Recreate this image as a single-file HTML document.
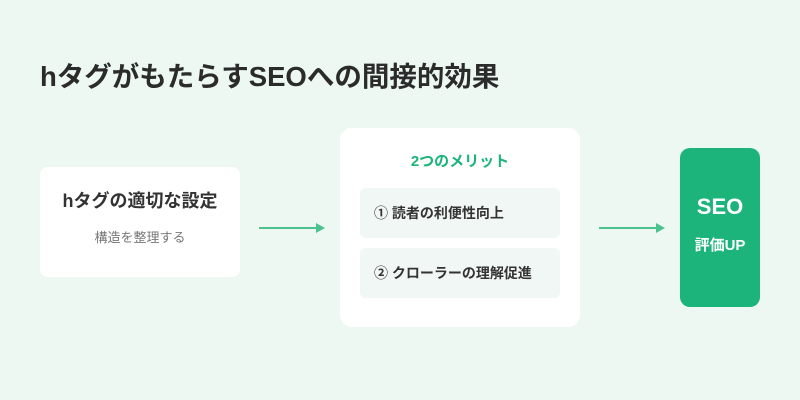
<!DOCTYPE html>
<html><head><meta charset="utf-8"><style>
body{margin:0;width:800px;height:400px;background:#edf8f3;position:relative;overflow:hidden;font-family:"Liberation Sans","Noto Sans CJK JP",sans-serif;color:#333}
.a{position:absolute}
.t{left:40px;top:54px;font-size:27.5px;font-weight:bold;color:#2b2b2b}
.b1{left:40px;top:167px;width:200px;height:110px;background:#fff;border-radius:8px}
.b2{left:340px;top:128px;width:240px;height:199px;background:#fff;border-radius:12px}
.r{left:360px;width:200px;height:50px;background:#f1f7f4;border-radius:6px;font-size:14px;font-weight:bold;line-height:50px;text-indent:14px;color:#333}
.g{left:680px;top:148px;width:80px;height:159px;background:#1db47b;border-radius:10px;color:#fff;text-align:center;font-weight:bold}
</style></head><body>
<div class="a t">hタグがもたらすSEOへの間接的効果</div>
<div class="a b1"></div>
<div class="a" style="left:40px;top:187px;width:200px;text-align:center;font-size:18px;font-weight:bold;color:#333">hタグの適切な設定</div>
<div class="a" style="left:40px;top:227px;width:200px;text-align:center;font-size:13px;color:#777">構造を整理する</div>
<div class="a b2"></div>
<div class="a" style="left:340px;top:150px;width:240px;text-align:center;font-size:15px;font-weight:bold;color:#1db47b">2つのメリット</div>
<div class="a r" style="top:188px">① 読者の利便性向上</div>
<div class="a r" style="top:248px">② クローラーの理解促進</div>
<div class="a g"><div style="margin-top:46px;font-size:22px">SEO</div><div style="margin-top:14px;font-size:15px">評価UP</div></div>
<svg class="a" style="left:0;top:0" width="800" height="400">
<line x1="259" y1="228" x2="317" y2="228" stroke="#4cc28f" stroke-width="2"/>
<polygon points="316,223 325,228 316,233" fill="#4cc28f"/>
<line x1="599" y1="228" x2="657" y2="228" stroke="#4cc28f" stroke-width="2"/>
<polygon points="656,223 665,228 656,233" fill="#4cc28f"/>
</svg>
</body></html>
